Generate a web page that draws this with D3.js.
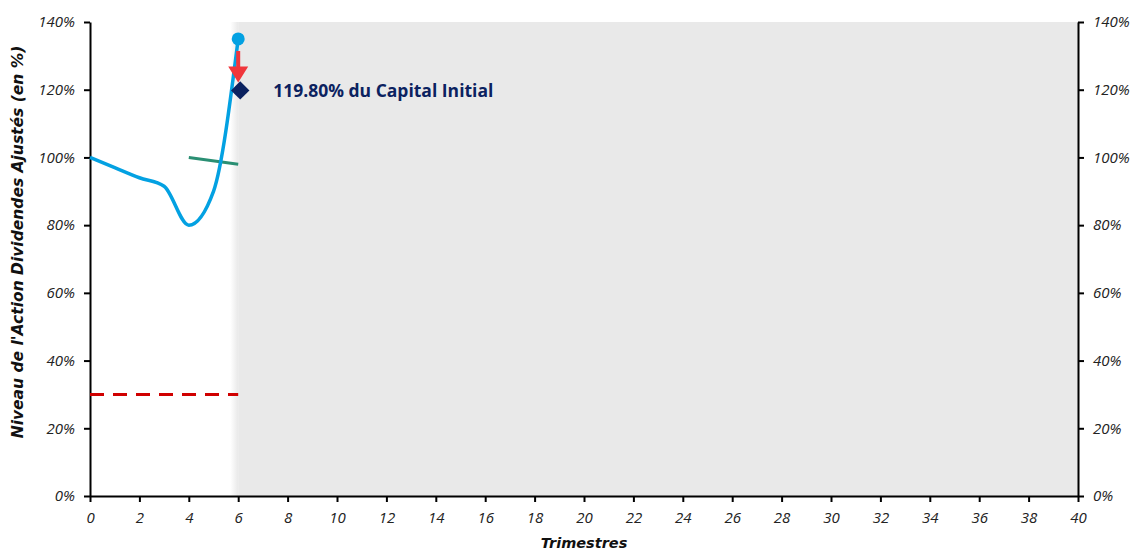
<!DOCTYPE html>
<html><head><meta charset="utf-8">
<script src="https://cdn.jsdelivr.net/npm/d3@7"></script>
<style>
body{margin:0;background:#fff;}
</style></head>
<body><svg id="c" width="1132" height="554"></svg>
<script>
const quarters = [0,1,2,3,4,5,6];
const stockLevel = [100,97,94,91.5,80,90,135];
const barrierQuarters = [0,6];
const barrierLevel = [30,30];
const couponQuarters = [4,6];
const couponLevel = [100,98];
const finalQuarter = 6;
const finalStock = 135;
const finalPayout = 119.8;
const payoutLabel = "119.80% du Capital Initial";
const xTicks = d3.range(0,41,2);
const yTicks = [0,20,40,60,80,100,120,140];
const yTitle = "Niveau de l'Action Dividendes Ajustés (en %)";
const xTitle = "Trimestres";

const svg = d3.select("#c");
const x = d3.scaleLinear().domain([0,40]).range([90,1078]);
const y = d3.scaleLinear().domain([0,140]).range([496,22]);

// shaded region
const defs = svg.append("defs");
const g = defs.append("linearGradient").attr("id","fade").attr("x1","0").attr("x2","1");
g.append("stop").attr("offset","0").attr("stop-color","#e9e9e9").attr("stop-opacity",0);
g.append("stop").attr("offset","1").attr("stop-color","#e9e9e9").attr("stop-opacity",1);
svg.append("rect").attr("x",x(finalQuarter)).attr("y",y(140)).attr("width",x(40)-x(finalQuarter)).attr("height",y(0)-y(140)).attr("fill","#e9e9e9");
svg.append("rect").attr("x",x(finalQuarter)-8).attr("y",y(140)).attr("width",8).attr("height",y(0)-y(140)).attr("fill","url(#fade)");

// axes
const fmt = d=>d+"%";
const ax = svg.append("g").attr("transform",`translate(0,${y(0)})`).call(d3.axisBottom(x).tickValues(xTicks).tickSize(6).tickSizeOuter(0));
const ayl = svg.append("g").attr("transform",`translate(${x(0)},0)`).call(d3.axisLeft(y).tickValues(yTicks).tickFormat(fmt).tickSize(6).tickSizeOuter(0));
const ayr = svg.append("g").attr("transform",`translate(${x(40)},0)`).call(d3.axisRight(y).tickValues(yTicks).tickFormat(fmt).tickSize(6).tickSizeOuter(0));
[ax,ayl,ayr].forEach(a=>{
  a.selectAll("path,line").attr("stroke","#000").attr("stroke-width",2);
  a.selectAll("text").style("font-size","15px").style("font-style","italic").attr("fill","#222").style("font-family","'Open Sans', sans-serif");
});
ax.selectAll("text").attr("dy","1.2em");
ayl.selectAll("text").attr("dx","-0.4em");
ayr.selectAll("text").attr("dx","0.4em");

// titles
svg.append("text").attr("transform",`translate(23,242) rotate(-90)`).attr("text-anchor","middle")
  .style("font-family","'DejaVu Sans', sans-serif")
  .style("font-size","15.5px").style("font-weight","bold").style("font-style","italic").attr("fill","#111").text(yTitle);
svg.append("text").attr("x",x(20)).attr("y",548).attr("text-anchor","middle")
  .style("font-family","'DejaVu Sans', sans-serif")
  .style("font-size","14.5px").style("font-weight","bold").style("font-style","italic").attr("fill","#111").text(xTitle);

// barrier
svg.append("path").datum(barrierQuarters.map((q,i)=>[q,barrierLevel[i]]))
  .attr("d",d3.line().x(d=>x(d[0])).y(d=>y(d[1]))).attr("stroke","#d00000").attr("stroke-width",3).attr("stroke-dasharray","14,9").attr("fill","none");

// coupon line
svg.append("path").datum(couponQuarters.map((q,i)=>[q,couponLevel[i]]))
  .attr("d",d3.line().x(d=>x(d[0])).y(d=>y(d[1]))).attr("stroke","#2a8f73").attr("stroke-width",3).attr("fill","none");

// stock
svg.append("path").datum(quarters.map((q,i)=>[q,stockLevel[i]]))
  .attr("d",d3.line().curve(d3.curveMonotoneX).x(d=>x(d[0])).y(d=>y(d[1]))).attr("stroke","#03a1e2").attr("stroke-width",3.5).attr("fill","none");
svg.append("circle").attr("cx",x(finalQuarter)).attr("cy",y(finalStock)).attr("r",6.5).attr("fill","#03a1e2");

// arrow
const ax0 = x(finalQuarter), yTop = y(finalStock)+12, yBot = y(finalPayout)-8;
svg.append("path").attr("d",`M${ax0-2},${yTop} L${ax0+2},${yTop} L${ax0+2},${yBot-16} L${ax0+10},${yBot-16} L${ax0},${yBot} L${ax0-10},${yBot-16} L${ax0-2},${yBot-16} Z`).attr("fill","#f0363c");

// diamond
svg.append("path").attr("d",d3.symbol().type(d3.symbolSquare).size(170)()).attr("transform",`translate(${x(finalQuarter)+2},${y(finalPayout)}) rotate(45)`).attr("fill","#0b2260");
svg.append("text").attr("x",x(finalQuarter)+35).attr("y",y(finalPayout)).attr("dy","0.35em")
  .style("font-family","'Open Sans', sans-serif").style("font-size","17.5px").style("font-weight","bold").attr("fill","#0b2260").text(payoutLabel);
</script></body></html>
